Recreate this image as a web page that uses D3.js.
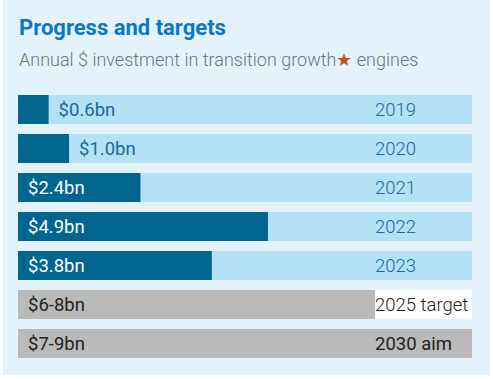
<!DOCTYPE html>
<html><head><meta charset="utf-8">
<script src="https://cdn.jsdelivr.net/npm/d3@7"></script>
<style>body{margin:0;background:#fff}svg{display:block}text{font-family:Roboto,"Noto Sans",sans-serif}</style>
</head><body><svg id="c" width="493" height="379"></svg>
<script>
const years = ["2019","2020","2021","2022","2023"];
const values = [0.6, 1.0, 2.4, 4.9, 3.8];
const valueLabels = ["$0.6bn","$1.0bn","$2.4bn","$4.9bn","$3.8bn"];
const targetNames = ["2025 target","2030 aim"];
const targetValues = [7.0, 8.9];
const targetLabels = ["$6-8bn","$7-9bn"];
const scaleMax = 8.9;

const svg = d3.select("#c");
svg.append("rect").attr("x",3).attr("y",0).attr("width",487).attr("height",375).attr("fill","#e4f3fb");

svg.append("text").attr("x",19).attr("y",35).attr("font-size",22).attr("font-weight",700)
  .attr("fill","#0a78c8").text("Progress and targets");
const sub = svg.append("text").attr("x",19).attr("y",66).attr("font-size",18).attr("font-weight",300).attr("fill","#707478");
sub.append("tspan").text("Annual $ investment in transition growth");
sub.append("tspan").attr("fill","#c6531c").text("★");
sub.append("tspan").text(" engines");

const rows = years.concat(targetNames);
const y = d3.scaleBand().domain(rows).range([95, 358]).paddingInner(0.256).paddingOuter(0);
const x = d3.scaleLinear().domain([0, scaleMax]).range([18, 472]);

const g = svg.append("g");
years.forEach((yr,i)=>{
  const yy = y(yr), h = y.bandwidth();
  g.append("rect").attr("x",x(0)).attr("y",yy).attr("width",x(scaleMax)-x(0)).attr("height",h).attr("fill","#b3e1f5");
  g.append("rect").attr("x",x(0)).attr("y",yy).attr("width",x(values[i])-x(0)).attr("height",h).attr("fill","#00658f");
  const inside = values[i] >= 2;
  g.append("text").attr("x", inside ? x(0)+10 : x(values[i])+10).attr("y",yy+h/2).attr("dy","0.36em")
    .attr("font-size",18.5).attr("fill", inside ? "#ffffff" : "#1a6a9c").text(valueLabels[i]);
  g.append("text").attr("x",375).attr("y",yy+h/2).attr("dy","0.36em").attr("font-size",18.5)
    .attr("font-weight",300).attr("fill","#1a69a0").text(yr);
});

targetNames.forEach((nm,i)=>{
  const yy = y(nm), h = y.bandwidth();
  if(i===0){
    g.append("rect").attr("x",x(0)).attr("y",yy).attr("width",x(scaleMax)-x(0)).attr("height",h).attr("fill","#ffffff");
  }
  g.append("rect").attr("x",x(0)).attr("y",yy).attr("width",x(targetValues[i])-x(0)).attr("height",h).attr("fill","#bababa");
  g.append("text").attr("x",x(0)+10).attr("y",yy+h/2).attr("dy","0.36em").attr("font-size",18.5)
    .attr("fill","#222").text(targetLabels[i]);
  const t = g.append("text").attr("x",375).attr("y",yy+h/2).attr("dy","0.36em").attr("font-size",18.5)
    .attr("fill","#222").text(nm);
  if(i===0) t.attr("font-weight",300);
});
</script></body></html>
